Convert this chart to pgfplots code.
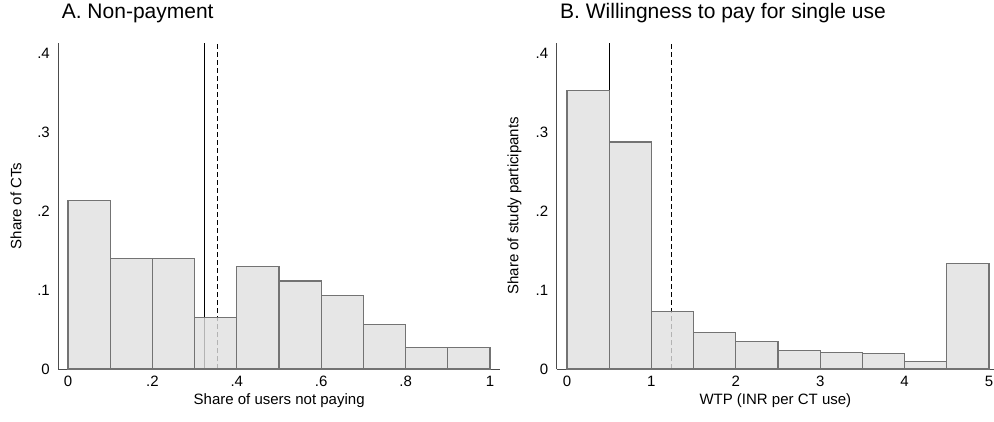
\documentclass[border=0pt]{standalone}
\usepackage{fontspec}
\setmainfont{Liberation Sans}
\usepackage{pgfplots}
\pgfplotsset{compat=1.18}

\definecolor{barfill}{RGB}{224,224,224}
\definecolor{baredge}{RGB}{115,115,115}

\pgfplotsset{
  histpanel/.style={
    scale only axis,
    anchor=south west,
    ymin=0, ymax=0.413,
    axis x line=bottom, axis y line=left,
    axis line style={-, line width=1pt, black!70},
    major tick length=0pt,
    ytick={0,0.1,0.2,0.3,0.4},
    yticklabels={0,.1,.2,.3,.4},
    /pgf/number format/assume math mode=true,
    tick label style={font=\fontsize{15}{18}\selectfont},
    label style={font=\fontsize{15}{18}\selectfont},
    xticklabel style={yshift=-3.5pt},
    yticklabel style={xshift=-5pt},
    xlabel style={at={(axis description cs:0.5,0)}, anchor=center, yshift=-32pt},
    title style={at={(axis description cs:0,1)}, anchor=base west, yshift=18.5pt,
                 font=\fontsize{21}{25}\selectfont},
    clip=false,
  },
  histbars/.style={ybar interval, fill=barfill, fill opacity=0.8, draw=baredge, line width=1.1pt},
  meanline/.style={black, line width=0.8pt},
  medline/.style={black, line width=0.8pt, dash pattern=on 5pt off 3pt},
}

\begin{document}
\begin{tikzpicture}
\useasboundingbox (0pt,0pt) rectangle (994pt,421pt);

% Panel A: share of users not paying, per CT
\begin{axis}[histpanel,
  at={(58.3pt,52pt)}, width=441.7pt, height=326.3pt,
  xmin=-0.023, xmax=1.0237,
  xtick={0,0.2,0.4,0.6,0.8,1},
  xticklabels={0,.2,.4,.6,.8,1},
  title={A. Non-payment},
  xlabel={Share of users not paying},
  ylabel={Share of CTs},
  ylabel style={at={(axis description cs:-0.0955,0.5)}, anchor=center},
]
\addplot[meanline] coordinates {(0.324,0) (0.324,0.413)};
\addplot[medline] coordinates {(0.354,0) (0.354,0.413)};
\addplot[histbars] coordinates {
  (0.0,0.2135) (0.1,0.1397) (0.2,0.1397) (0.3,0.0650) (0.4,0.1300)
  (0.5,0.1114) (0.6,0.0932) (0.7,0.0560) (0.8,0.0274) (0.9,0.0274)
  (1.0,0)
};
\end{axis}

% Panel B: stated willingness to pay for one use
\begin{axis}[histpanel,
  at={(556.7pt,52pt)}, width=437.3pt, height=326.3pt,
  xmin=-0.122, xmax=5.059,
  xtick={0,1,2,3,4,5},
  xticklabels={0,1,2,3,4,5},
  title={B. Willingness to pay for single use},
  xlabel={WTP (INR per CT use)},
  ylabel={Share of study participants},
  ylabel style={at={(axis description cs:-0.0965,0.5)}, anchor=center},
]
\addplot[meanline] coordinates {(0.5,0) (0.5,0.413)};
\addplot[medline] coordinates {(1.24,0) (1.24,0.413)};
\addplot[histbars] coordinates {
  (0.0,0.3530) (0.5,0.2873) (1.0,0.0726) (1.5,0.0460) (2.0,0.0346)
  (2.5,0.0232) (3.0,0.0207) (3.5,0.0198) (4.0,0.0093) (4.5,0.1338)
  (5.0,0)
};
\end{axis}
\end{tikzpicture}
\end{document}
